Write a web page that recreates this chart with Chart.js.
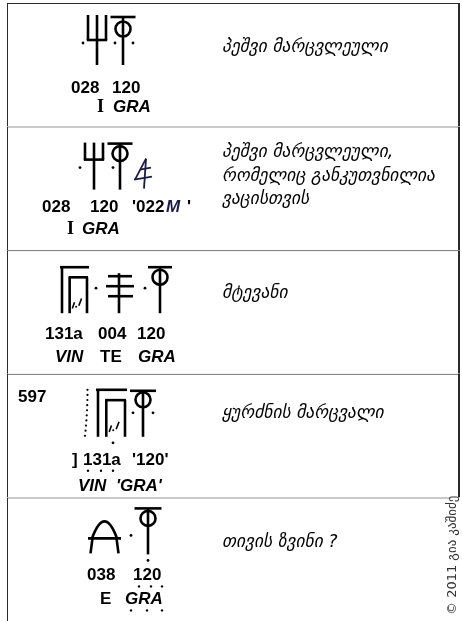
<!DOCTYPE html>
<html>
<head>
<meta charset="utf-8">
<script src="https://cdn.jsdelivr.net/npm/chart.js@4.4.1/dist/chart.umd.min.js"></script>
<style>
  html, body { margin: 0; padding: 0; background: #fff; }
  canvas { display: block; }
</style>
</head>
<body>
<canvas id="signChart" width="462" height="621"></canvas>
<script>
// Table rows (one bar = one row of the table)
const rowLabels = ['028 120', '028 120 022M', '131a 004 120', '597 131a 120', '038 120'];
const cellSpan = [[0, 1], [0, 1], [0, 1], [0, 1], [0, 0.98]];

// Sign numbers under the signs
const signNumbers = [
    ['028', '120'],
    ['028', '120', "'022", 'M', "'"],
    ['131a', '004', '120'],
    [']', '131a', "'120'"],
    ['038', '120']
];

// Transliterations
const transliterations = [
    ['I', 'GRA'],
    ['I', 'GRA'],
    ['VIN', 'TE', 'GRA'],
    ['VIN', "'GRA'"],
    ['E', 'GRA']
];

// Meanings (Georgian)
const meanings = [
    ['პეშვი მარცვლეული'],
    ['პეშვი მარცვლეული,', 'რომელიც განკუთვნილია', 'ვაცისთვის'],
    ['მტევანი'],
    ['ყურძნის მარცვალი'],
    ['თივის ზვინი ?']
];

const inscriptionNumbers = ['', '', '', '597', ''];
const copyrightText = '© 2011 გია კაშიძე';

// Fonts
const NUM_FONT = 'bold 17px "Liberation Sans"';
const ITAL_FONT = 'italic bold 17px "Liberation Sans"';
const SERIF_FONT = 'bold 18px "Liberation Serif"';
const GEO_FONT = 'italic 17.5px "DejaVu Sans"';

// Layout of text pieces inside each row (x, and y relative to the row top)
const numberLayout = [
    { y: 85, x: [71, 112] },
    { y: 81, x: [42, 90, 132, 166, 187] },
    { y: 84, x: [45, 98, 137] },
    { y: 87, x: [72, 83, 132] },
    { y: 78, x: [87, 133] }
];
const translitLayout = [
    { y: 104, x: [97, 113], font: [SERIF_FONT, ITAL_FONT] },
    { y: 103, x: [67, 82], font: [SERIF_FONT, ITAL_FONT] },
    { y: 107, x: [55, 100, 138], font: [ITAL_FONT, NUM_FONT, ITAL_FONT] },
    { y: 113, x: [78, 116], font: [ITAL_FONT, ITAL_FONT] },
    { y: 102, x: [100, 125], font: [NUM_FONT, ITAL_FONT] }
];
const meaningLayout = [[44], [26, 50, 73], [43], [40], [45]];

function line(ctx, x1, y1, x2, y2) {
    ctx.beginPath();
    ctx.moveTo(x1, y1);
    ctx.lineTo(x2, y2);
    ctx.stroke();
}

function dot(ctx, x, y, r = 1.4) {
    ctx.beginPath();
    ctx.arc(x, y, r, 0, Math.PI * 2);
    ctx.fill();
}

// Linear A sign 120 (GRA)
function sign120(ctx, cx, top, cy, r, bottom, half) {
    line(ctx, cx - half, top, cx + half, top);
    ctx.beginPath();
    ctx.arc(cx, cy, r, 0, Math.PI * 2);
    ctx.stroke();
    line(ctx, cx, top, cx, bottom);
}

// Linear A sign 028 (I)
function sign028(ctx, cx, top, barY, bottom, half) {
    [-half, 0, half].forEach(d => line(ctx, cx + d, top, cx + d, barY));
    line(ctx, cx - half - 1.2, barY, cx + half + 1.2, barY);
    line(ctx, cx, barY, cx, bottom);
}

// Linear A sign 131a (VIN)
function sign131a(ctx, x, top, w, h) {
    line(ctx, x - 1, top, x + w + 1, top);
    line(ctx, x + 1, top, x + 1, top + h);
    const innerY = top + 0.22 * h;
    line(ctx, x + 0.28 * w, innerY, x + w, innerY);
    line(ctx, x + 0.32 * w, innerY, x + 0.32 * w, top + h);
    line(ctx, x + w - 1, innerY, x + w - 1, top + h);
    ctx.save();
    ctx.lineWidth = 1.6;
    line(ctx, x + 0.42 * w, top + 0.9 * h, x + 0.5 * w, top + 0.76 * h);
    line(ctx, x + 0.66 * w, top + 0.84 * h, x + 0.76 * w, top + 0.68 * h);
    ctx.restore();
    dot(ctx, x + 0.56 * w, top + 0.86 * h, 1);
}

// Linear A sign 004 (TE)
function sign004(ctx, cx, top, bottom) {
    line(ctx, cx, top, cx, bottom);
    line(ctx, cx - 11, top + 3, cx + 13, top + 3);
    line(ctx, cx - 13, top + 13, cx + 15, top + 13);
    line(ctx, cx - 11, top + 23, cx + 14, top + 23);
}

// Linear A sign 038 (E)
function sign038(ctx, top) {
    ctx.beginPath();
    ctx.moveTo(92, top + 40);
    ctx.quadraticCurveTo(104.5, top + 6, 117, top + 40);
    ctx.stroke();
    line(ctx, 88, top + 40, 121, top + 40);
    line(ctx, 92.5, top + 40, 90.5, top + 55);
    line(ctx, 116.5, top + 40, 118.5, top + 55);
}

// Handwritten sign 022M
function sign022m(ctx, top) {
    ctx.save();
    ctx.strokeStyle = '#1c1c48';
    ctx.lineWidth = 1.8;
    line(ctx, 146, top + 32, 144, top + 62);
    line(ctx, 146, top + 32, 135, top + 53);
    line(ctx, 134, top + 53, 152, top + 50);
    line(ctx, 140, top + 43, 151, top + 41);
    ctx.restore();
}

function drawSigns(ctx, i, top) {
    ctx.strokeStyle = '#000';
    ctx.fillStyle = '#000';
    ctx.lineWidth = 2.6;
    if (i === 0) {
        sign028(ctx, 97, top + 12, top + 37, top + 62, 9);
        dot(ctx, 83, top + 40);
        sign120(ctx, 123, top + 14, top + 26, 7.5, top + 62, 12.5);
        dot(ctx, 115, top + 40);
        dot(ctx, 133, top + 40);
    } else if (i === 1) {
        sign028(ctx, 94, top + 16, top + 33, top + 63, 9);
        dot(ctx, 80, top + 41);
        sign120(ctx, 120, top + 17, top + 27, 7.5, top + 63, 12.5);
        dot(ctx, 113, top + 41);
        sign022m(ctx, top);
    } else if (i === 2) {
        sign131a(ctx, 61, top + 17, 27, 46);
        dot(ctx, 96, top + 38);
        sign004(ctx, 119, top + 23, top + 63);
        dot(ctx, 145, top + 38);
        sign120(ctx, 160, top + 17, top + 27, 7.5, top + 63, 12);
    } else if (i === 3) {
        for (let k = 0; k < 10; k++) {
            const t = k / 9;
            dot(ctx, 87.5 - 2.5 * t * t, top + 16 + 46 * t, 1.1);
        }
        sign131a(ctx, 97, top + 16, 29, 47);
        dot(ctx, 113, top + 69);
        sign120(ctx, 143, top + 17, top + 26, 7.5, top + 63, 13);
        dot(ctx, 133, top + 39);
        dot(ctx, 153, top + 39);
    } else if (i === 4) {
        sign038(ctx, top + 1);
        dot(ctx, 131, top + 38);
        sign120(ctx, 148, top + 11, top + 21, 7.5, top + 57, 13.5);
        dot(ctx, 148, top + 63);
    }
}

function drawRowText(ctx, i, top) {
    ctx.fillStyle = '#000';
    ctx.textBaseline = 'middle';
    ctx.textAlign = 'left';

    if (inscriptionNumbers[i]) {
        ctx.font = NUM_FONT;
        ctx.fillText(inscriptionNumbers[i], 18, top + 24);
    }

    const nl = numberLayout[i];
    signNumbers[i].forEach((word, k) => {
        ctx.font = word === 'M' ? ITAL_FONT : NUM_FONT;
        ctx.fillStyle = word === 'M' ? '#1c1c48' : '#000';
        ctx.fillText(word, nl.x[k], top + nl.y);
    });
    ctx.fillStyle = '#000';

    const tl = translitLayout[i];
    transliterations[i].forEach((word, k) => {
        ctx.font = tl.font[k];
        ctx.fillText(word, tl.x[k], top + tl.y);
    });

    // dotted (uncertain) readings
    if (i === 3) {
        [88, 101, 113].forEach(x => dot(ctx, x, top + 97, 1.2));
    }
    if (i === 4) {
        [139, 151, 162].forEach(x => dot(ctx, x, top + 89, 1.2));
        [131, 147, 162].forEach(x => dot(ctx, x, top + 113, 1.2));
    }

    ctx.font = GEO_FONT;
    meanings[i].forEach((txt, k) => {
        ctx.fillText(txt, 222, top + meaningLayout[i][k]);
    });
}

const tablePlugin = {
    id: 'tableText',
    afterDatasetsDraw(chart) {
        const ctx = chart.ctx;
        const meta = chart.getDatasetMeta(0);
        ctx.save();
        meta.data.forEach((bar, i) => {
            const { y, height } = bar.getProps(['y', 'height'], true);
            const top = y - height / 2;
            drawSigns(ctx, i, top);
            drawRowText(ctx, i, top);
        });

        // copyright, written vertically
        ctx.translate(453, 615);
        ctx.rotate(-Math.PI / 2);
        ctx.font = '13px "DejaVu Sans"';
        ctx.fillStyle = '#333';
        ctx.textBaseline = 'middle';
        ctx.textAlign = 'left';
        ctx.fillText(copyrightText, 0, 0);
        ctx.restore();
    }
};

const ctx = document.getElementById('signChart').getContext('2d');
new Chart(ctx, {
    type: 'bar',
    data: {
        labels: rowLabels,
        datasets: [{
            data: cellSpan,
            backgroundColor: '#fff',
            borderColor: '#2b2b2b',
            borderWidth: c => ({ top: 1, left: 1, bottom: 0, right: c.dataIndex < 4 ? 2 : 0 }),
            borderSkipped: false,
            barPercentage: 1,
            categoryPercentage: 1,
            inflateAmount: 0
        }]
    },
    options: {
        indexAxis: 'y',
        responsive: false,
        animation: false,
        devicePixelRatio: 1,
        layout: { padding: { left: 7, right: 2, top: 3, bottom: -2 } },
        scales: {
            x: { display: false, min: 0, max: 1 },
            y: { display: false }
        },
        plugins: {
            legend: { display: false },
            tooltip: { enabled: false }
        }
    },
    plugins: [tablePlugin]
});
</script>
</body>
</html>
